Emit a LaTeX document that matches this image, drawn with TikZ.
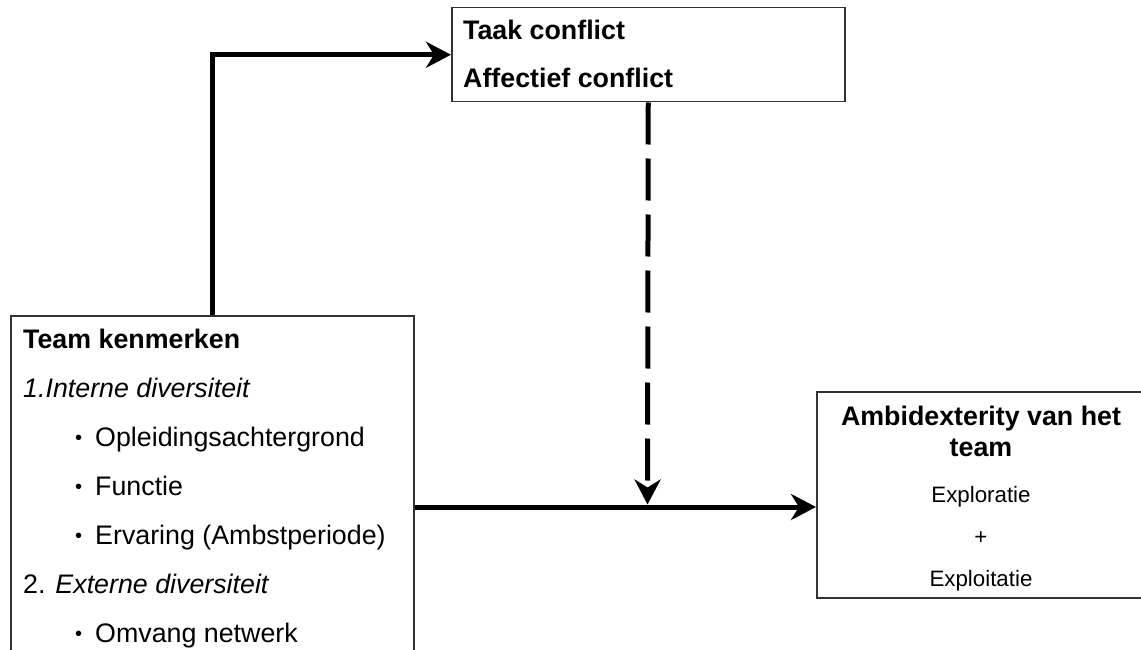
\documentclass[tikz,border=0pt]{standalone}
\usepackage{fontspec}
\setmainfont{Liberation Sans}
\usetikzlibrary{arrows.meta}

\tikzset{
  box/.style={draw=black!80, line width=1.5pt, anchor=north west, inner sep=0pt},
  txt/.style={anchor=base west, inner sep=0pt, font=\fontsize{26.8}{32}\selectfont},
  ctr/.style={anchor=base, inner sep=0pt, font=\fontsize{22.3}{27}\selectfont},
  flow/.style={line width=5pt, -{Stealth[length=25pt,width=26pt,inset=8pt]}},
}
\newcommand{\bul}{\makebox[20pt][l]{\raisebox{2pt}{\scalebox{0.75}{•}}}}

\begin{document}
\begin{tikzpicture}[x=1pt,y=-1pt]
\clip (0,0) rectangle (1141,650);
\node[box, minimum width=403pt, minimum height=400pt] (team) at (10,315) {}; % team box
\node[box, minimum width=393pt, minimum height=94pt] (conf) at (451,7) {}; % conflict box
\node[box, minimum width=400pt, minimum height=206pt] (amb) at (816,391) {}; % ambidexterity box

\node[txt, font=\bfseries\fontsize{26.8}{32}\selectfont] (teamhead) at (23,348) {Team kenmerken};
\node[txt] (intern) at (23,397) {\textit{1.Interne diversiteit}};
\node[txt] (opl) at (75,446) {\bul Opleidingsachtergrond};
\node[txt] (func) at (75,495) {\bul Functie};
\node[txt] (erv) at (75,544) {\bul Ervaring (Ambstperiode)};
\node[txt] (extern) at (23,593) {2. \textit{Externe diversiteit}};
\node[txt] (omv) at (75,642) {\bul Omvang netwerk};

\node[txt, font=\bfseries\fontsize{26.8}{32}\selectfont] (taak) at (463,40) {Taak conflict};
\node[txt, font=\bfseries\fontsize{26.8}{32}\selectfont] (affect) at (463,88) {Affectief conflict};

\node[ctr, font=\bfseries\fontsize{26.8}{32}\selectfont] (ambhead) at (981,425) {Ambidexterity van het};
\node[ctr, font=\bfseries\fontsize{26.8}{32}\selectfont] (ambteam) at (981,456) {team};
\node[ctr] (explor) at (981,502) {Exploratie};
\node[ctr] (plus) at (981,544) {+};
\node[ctr] (exploit) at (981,586) {Exploitatie};

\coordinate (join) at (647.5,507);
\draw[flow] (team.north) |- (conf.west); % to conflict
\draw[flow] (team.east |- join) -- (amb.west |- join); % main effect
\draw[flow, dash pattern=on 42pt off 14pt, shorten >=2.5pt] (conf.south) -- (join); % moderation
\end{tikzpicture}
\end{document}
